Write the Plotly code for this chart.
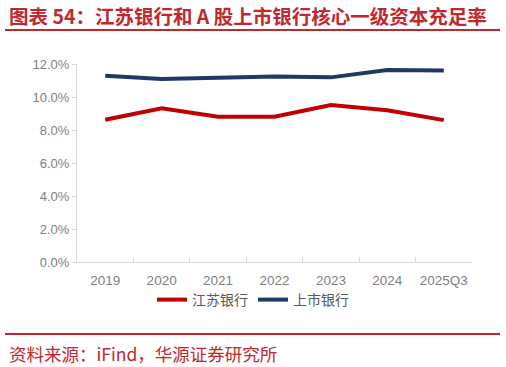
import plotly.graph_objects as go

categories = ["2019", "2020", "2021", "2022", "2023", "2024", "2025Q3"]
jiangsu_bank = [8.62, 9.32, 8.80, 8.80, 9.52, 9.20, 8.60]
listed_banks = [11.29, 11.09, 11.17, 11.25, 11.19, 11.64, 11.60]
series_names = ["江苏银行", "上市银行"]
title_text = "图表 54：江苏银行和 A 股上市银行核心一级资本充足率"
source_text = "资料来源：iFind，华源证券研究所"

W, H = 506, 367
L, R, T, B = 77, 472, 64, 262

def px(x):
    return (x - L) / (R - L)

def py(y):
    return (B - y) / (B - T)

RED = "#C00000"
BLUE = "#203864"
BRAND = "#C0282D"

fig = go.Figure()
fig.add_trace(go.Scatter(x=categories, y=jiangsu_bank, name=series_names[0], mode="lines",
                         line=dict(color=RED, width=4)))
fig.add_trace(go.Scatter(x=categories, y=listed_banks, name=series_names[1], mode="lines",
                         line=dict(color=BLUE, width=4)))

fig.update_layout(
    width=W, height=H,
    margin=dict(l=L, r=W - R, t=T, b=H - B, pad=0),
    paper_bgcolor="white", plot_bgcolor="white",
    font=dict(family="Liberation Sans, Arial, sans-serif", color="#7F7F7F", size=13),
    showlegend=True,
    legend=dict(orientation="h", x=px(253), y=py(300), xanchor="center", yanchor="middle",
                font=dict(family="Noto Sans CJK SC", size=14, color="#595959"),
                itemwidth=30, tracegroupgap=0, bgcolor="rgba(0,0,0,0)"),
    xaxis=dict(type="category", range=[-0.5, 6.5], showgrid=False, zeroline=False,
               showline=True, linecolor="#D9D9D9", linewidth=1,
               ticks="inside", tickson="boundaries", ticklen=5, tickcolor="#D9D9D9",
               tickangle=0, ticklabelstandoff=6, tickfont=dict(size=13.5, color="#7F7F7F")),
    yaxis=dict(range=[0, 12], dtick=2, tickformat=".1f", ticksuffix="%", showgrid=False,
               zeroline=False, showline=True, linecolor="#D9D9D9", linewidth=1,
               ticks="outside", ticklen=4, tickcolor="#D9D9D9",
               tickfont=dict(size=13, color="#7F7F7F")),
)

fig.add_annotation(text=title_text, xref="paper", yref="paper", x=px(7), y=py(15.5),
                   xanchor="left", yanchor="middle", showarrow=False,
                   font=dict(family="Noto Sans CJK SC", size=19.5, color=BRAND, weight="bold"))
fig.add_annotation(text=source_text, xref="paper", yref="paper", x=px(7), y=py(353),
                   xanchor="left", yanchor="middle", showarrow=False,
                   font=dict(family="Noto Sans CJK SC", size=17.5, color=BRAND))
for yy in (30, 334):
    fig.add_shape(type="line", xref="paper", yref="paper", x0=px(5), x1=px(500),
                  y0=py(yy), y1=py(yy), line=dict(color=BRAND, width=2))

fig.write_html("out.html")
